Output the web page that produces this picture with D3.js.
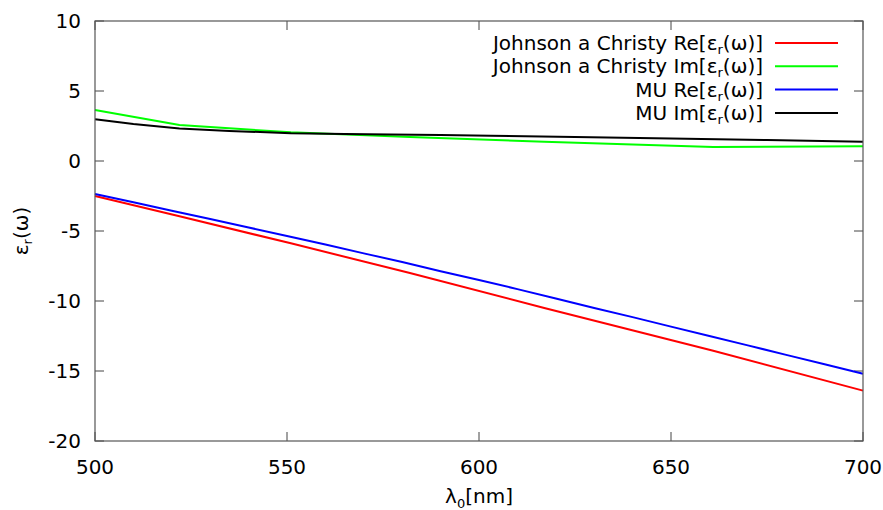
<!DOCTYPE html>
<html><head><meta charset="utf-8">
<script src="https://cdn.jsdelivr.net/npm/d3@7"></script>
<style>body{margin:0;background:#fff}svg{display:block}text{font-family:"DejaVu Sans",sans-serif;fill:#000}</style>
</head><body>
<svg id="c" width="883" height="510"></svg>
<script>
const jcRe = [[500,-2.5],[522,-3.95],[551,-5.88],[582,-8.0],[617,-10.5],[661,-13.55],[700,-16.4]];
const jcIm = [[500,3.65],[522,2.57],[551,2.05],[582,1.72],[617,1.38],[661,1.0],[700,1.05]];
const muRe = [[500,-2.36],[510,-2.95],[520,-3.55],[530,-4.15],[540,-4.75],[550,-5.35],[560,-5.97],[570,-6.6],[580,-7.22],[590,-7.87],[600,-8.5],[610,-9.15],[620,-9.82],[630,-10.5],[640,-11.15],[650,-11.83],[660,-12.5],[670,-13.17],[680,-13.85],[690,-14.52],[700,-15.2]];
const muIm = [[500,2.98],[510,2.65],[522,2.33],[535,2.15],[551,1.98],[565,1.93],[577,1.9],[590,1.86],[603,1.81],[625,1.72],[650,1.6],[675,1.5],[700,1.38]];
const xTicks = [500,550,600,650,700];
const yTicks = [-20,-15,-10,-5,0,5,10];
const series = [
  {name:"Johnson a Christy Re", data:jcRe, color:"#ff0000"},
  {name:"Johnson a Christy Im", data:jcIm, color:"#00ff00"},
  {name:"MU Re", data:muRe, color:"#0000ff"},
  {name:"MU Im", data:muIm, color:"#000000"}
];
const L=95,R=863,T=21,B=441;
const FS=20, SS=13;
const svg=d3.select("#c");
const x=d3.scaleLinear().domain([500,700]).range([L,R]);
const y=d3.scaleLinear().domain([-20,10]).range([B,T]);
const g=svg.append("g");
const tl=9;
xTicks.forEach(t=>{
  g.append("line").attr("x1",x(t)).attr("x2",x(t)).attr("y1",B).attr("y2",B-tl).attr("stroke","#444");
  g.append("line").attr("x1",x(t)).attr("x2",x(t)).attr("y1",T).attr("y2",T+tl).attr("stroke","#444");
  svg.append("text").attr("x",x(t)).attr("y",474).attr("text-anchor","middle").attr("font-size",FS).text(t);
});
yTicks.forEach(t=>{
  g.append("line").attr("x1",L).attr("x2",L+tl).attr("y1",y(t)).attr("y2",y(t)).attr("stroke","#444");
  g.append("line").attr("x1",R).attr("x2",R-tl).attr("y1",y(t)).attr("y2",y(t)).attr("stroke","#444");
  svg.append("text").attr("x",81).attr("y",y(t)+7).attr("text-anchor","end").attr("font-size",FS).text(t);
});
const line=d3.line().x(d=>x(d[0])).y(d=>y(d[1]));
series.forEach(s=>{
  svg.append("path").attr("d",line(s.data)).attr("fill","none").attr("stroke",s.color).attr("stroke-width",2);
});
svg.append("rect").attr("x",L).attr("y",T).attr("width",R-L).attr("height",B-T).attr("fill","none").attr("stroke","#555").attr("stroke-width",1.2);
series.forEach((s,i)=>{
  const yy=43+i*23.3;
  const t=svg.append("text").attr("x",763).attr("y",yy+7).attr("text-anchor","end").attr("font-size",FS);
  t.append("tspan").text(s.name+"[ε");
  t.append("tspan").attr("font-size",SS).attr("dy",4).text("r");
  t.append("tspan").attr("dy",-4).text("(ω)]");
  svg.append("line").attr("x1",775).attr("x2",838).attr("y1",yy).attr("y2",yy).attr("stroke",s.color).attr("stroke-width",2);
});
const xl=svg.append("text").attr("x",479).attr("y",503).attr("text-anchor","middle").attr("font-size",FS);
xl.append("tspan").text("λ");
xl.append("tspan").attr("font-size",SS).attr("dy",5).text("0");
xl.append("tspan").attr("dy",-5).text("[nm]");
const yl=svg.append("text").attr("transform","translate(28,231) rotate(-90)").attr("text-anchor","middle").attr("font-size",FS);
yl.append("tspan").text("ε");
yl.append("tspan").attr("font-size",SS).attr("dy",4).text("r");
yl.append("tspan").attr("dy",-4).text("(ω)");
</script>
</body></html>
